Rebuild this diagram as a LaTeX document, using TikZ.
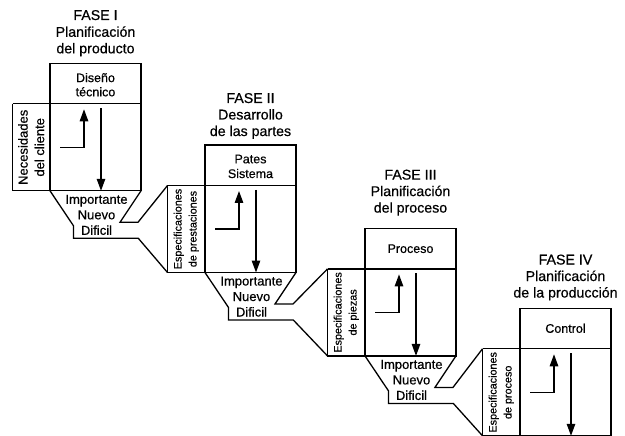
\documentclass[tikz,border=0pt]{standalone}
\usepackage{fontspec}
\setmainfont[FakeBold=0.5]{Liberation Sans}
\usetikzlibrary{calc,arrows.meta}

\tikzset{
  ln/.style={line width=1.3pt, line join=miter},
  arr/.style={ln, -{Triangle[length=12pt,width=8.5pt]}},
  title/.style={font=\fontsize{14.2}{16}\selectfont, anchor=base, inner sep=0pt},
  boxtxt/.style={font=\fontsize{12.5}{15}\selectfont, anchor=base, inner sep=0pt},
  traptxt/.style={font=\fontsize{13}{15}\selectfont, anchor=base, inner sep=0pt},
  sidebig/.style={font=\fontsize{13}{16.5}\selectfont, rotate=90, align=center, inner sep=0pt},
  sidesmall/.style={font=\fontsize{10.8}{15}\selectfont, rotate=90, align=center, inner sep=0pt},
}

\begin{document}
\begin{tikzpicture}[x=1pt,y=-1pt]
\useasboundingbox (0,0) rectangle (625,436);
\clip (0,0) rectangle (625,435);

% column geometry: width, divider depth, height, side box width
\def\colw{91}
\def\divy{40.5}
\def\colh{127.5}
\def\sidew{37.5}

% top-left corners of the four phase columns
\coordinate (P1) at (50,63.3);
\coordinate (P2) at (205,145);
\coordinate (P3) at (365,228.4);
\coordinate (P4) at (520,308.3);

\foreach \k in {1,2,3,4}{
  \coordinate (st\k) at ($(P\k)+(-\sidew,\divy)$);
  \coordinate (sb\k) at ($(P\k)+(-\sidew,\colh)$);
}

% columns, side boxes and arrows
\foreach \k in {1,2,3,4}{
  \draw[ln] (P\k) rectangle ($(P\k)+(\colw,\colh)$);
  \draw[ln] (st\k) -- ($(P\k)+(\colw,\divy)$);
  \draw[ln] (st\k) -- (sb\k) -- ($(P\k)+(0,\colh)$);
  \draw[arr] ($(P\k)+(10,84)$) -- ($(P\k)+(34,84)$) -- ($(P\k)+(34,46)$);
  \draw[arr] ($(P\k)+(51,45)$) -- ($(P\k)+(51,\colh)$);
}

% funnels leading into the next phase's side box
\foreach \k in {1,2,3}{
  \pgfmathtruncatemacro\nx{\k+1}
  \draw[ln] ($(P\k)+(0,\colh)$) -- ($(P\k)+(23.5,\colh+35)$)
    -- ($(P\k)+(23.5,\colh+47.5)$) -- ($(P\k)+(88.3,\colh+47.5)$) -- (sb\nx);
  \draw[ln] ($(P\k)+(\colw,\colh)$) -- ($(P\k)+(70,\colh+31.5)$)
    -- ($(P\k)+(88,\colh+31.5)$) -- (st\nx);
}

% titles
\node[title] (t1a) at ($(P1)+(45.5,-43.3)$) {FASE I};
\node[title] (t1b) at ($(P1)+(45.5,-26.5)$) {Planificación};
\node[title] (t1c) at ($(P1)+(45.5,-10)$) {del producto};

\node[title] (t2a) at ($(P2)+(45.5,-42)$) {FASE II};
\node[title] (t2b) at ($(P2)+(45.5,-25.5)$) {Desarrollo};
\node[title] (t2c) at ($(P2)+(45.5,-9)$) {de las partes};

\node[title] (t3a) at ($(P3)+(45.5,-48.8)$) {FASE III};
\node[title] (t3b) at ($(P3)+(45.5,-32.3)$) {Planificación};
\node[title] (t3c) at ($(P3)+(45.5,-15.8)$) {del proceso};

\node[title] (t4a) at ($(P4)+(45.5,-43.8)$) {FASE IV};
\node[title] (t4b) at ($(P4)+(45.5,-27.3)$) {Planificación};
\node[title] (t4c) at ($(P4)+(45.5,-10.8)$) {de la producción};

% upper compartments
\node[boxtxt] (h1a) at ($(P1)+(45.5,18.8)$) {Diseño};
\node[boxtxt] (h1b) at ($(P1)+(45.5,33)$) {técnico};
\node[boxtxt] (h2a) at ($(P2)+(45.5,18.3)$) {Pates};
\node[boxtxt] (h2b) at ($(P2)+(45.5,33)$) {Sistema};
\node[boxtxt] (h3) at ($(P3)+(45.5,24.5)$) {Proceso};
\node[boxtxt] (h4) at ($(P4)+(45.5,24.5)$) {Control};

% funnel labels
\foreach \k in {1,2,3}{
  \node[traptxt] (i\k) at ($(P\k)+(46.5,\colh+13)$) {Importante};
  \node[traptxt] (n\k) at ($(P\k)+(46.5,\colh+28.5)$) {Nuevo};
  \node[traptxt] (d\k) at ($(P\k)+(46.5,\colh+44)$) {Dificil};
}

% side box labels
\node[sidebig] (s1) at ($(P1)+(-\sidew/2,\divy/2+\colh/2)$) {Necesidades\\del cliente};
\node[sidesmall] (s2) at ($(P2)+(-\sidew/2,\divy/2+\colh/2)$) {Especificaciones\\de prestaciones};
\node[sidesmall] (s3) at ($(P3)+(-\sidew/2,\divy/2+\colh/2)$) {Especificaciones\\de piezas};
\node[sidesmall] (s4) at ($(P4)+(-\sidew/2,\divy/2+\colh/2)$) {Especificaciones\\de proceso};
\end{tikzpicture}
\end{document}
